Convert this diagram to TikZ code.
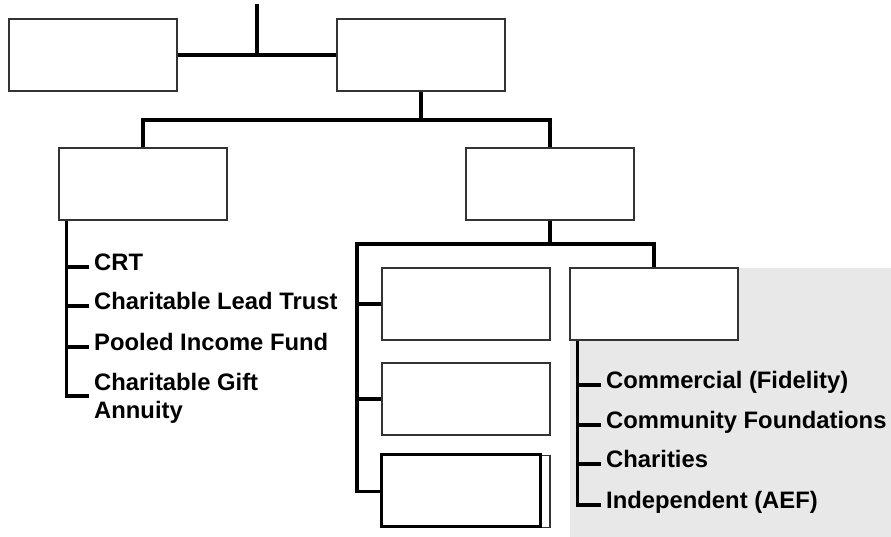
\documentclass[tikz,border=0pt]{standalone}
\usepackage{fontspec}
\setmainfont{Liberation Sans}
\tikzset{
  box/.style={draw=black!80,line width=1.5pt,fill=white,minimum width=168pt,minimum height=72pt,inner sep=0pt},
  conn/.style={line width=3.4pt,black},
  item/.style={anchor=west,inner xsep=5pt,inner ysep=0pt,text height=0.716em,text depth=0pt,font=\bfseries\fontsize{23.8}{28}\selectfont},
}
\begin{document}
\begin{tikzpicture}[x=1pt,y=-1pt]
    \useasboundingbox (0,0) rectangle (891,537);
    \fill[gray!18] (570,268) rectangle (891,537);

    % boxes
    \node[box] (a) at (93,55) {};
    \node[box] (b) at (421,55) {};
    \node[box] (c) at (143,184) {};
    \node[box] (d) at (550,184) {};
    \node[box] (e1) at (466,304) {};
    \node[box] (e2) at (466,399) {};
    \node[box] (e3) at (466,491.5) {};
    \node[box] (f) at (654,304) {};
    \draw[line width=3pt] (e3.north west) -| ([xshift=-10pt,yshift=2pt]e3.south east)
      -- ([yshift=2pt]e3.south west) -- cycle;

    \coordinate (root) at (257,4);
    \coordinate (bus1) at (0,120);
    \coordinate (bus2) at (357,244);
    \coordinate[xshift=8pt] (stemc) at (c.south west);
    \coordinate[xshift=8pt] (stemf) at (f.south west);

    \draw[conn] (root) -- (root |- a.east);
    \draw[conn] (a.east) -- (b.west);
    \draw[conn] (b.south) -- (b.south |- bus1);
    \draw[conn] (c.north) |- (bus1 -| d.north) -- (d.north);
    \draw[conn] (d.south) -- (d.south |- bus2);
    \draw[conn] (e3.west) -| (bus2) -| (f.north);
    \draw[conn] (e1.west) -- (e1.west -| bus2);
    \draw[conn] (e2.west) -- (e2.west -| bus2);

    % left list
    \node[item] (crt) at (89,267) {CRT};
    \node[item] (lead) at (89,306) {Charitable Lead Trust};
    \node[item] (pooled) at (89,347) {Pooled Income Fund};
    \node[item,align=left,text height=,text depth=] (gift) at (89,398) {Charitable Gift\\Annuity};
    \draw[conn] (stemc) |- (89,396);
    \draw[conn] (stemc |- crt.west) -- (crt.west);
    \draw[conn] (stemc |- lead.west) -- (lead.west);
    \draw[conn] (stemc |- pooled.west) -- (pooled.west);

    % right list
    \node[item] (commercial) at (601,385) {Commercial (Fidelity)};
    \node[item] (community) at (601,425) {Community Foundations};
    \node[item] (charities) at (601,464) {Charities};
    \node[item] (independent) at (601,505) {Independent (AEF)};
    \draw[conn] (stemf) |- (independent.west);
    \draw[conn] (stemf |- commercial.west) -- (commercial.west);
    \draw[conn] (stemf |- community.west) -- (community.west);
    \draw[conn] (stemf |- charities.west) -- (charities.west);
\end{tikzpicture}
\end{document}
